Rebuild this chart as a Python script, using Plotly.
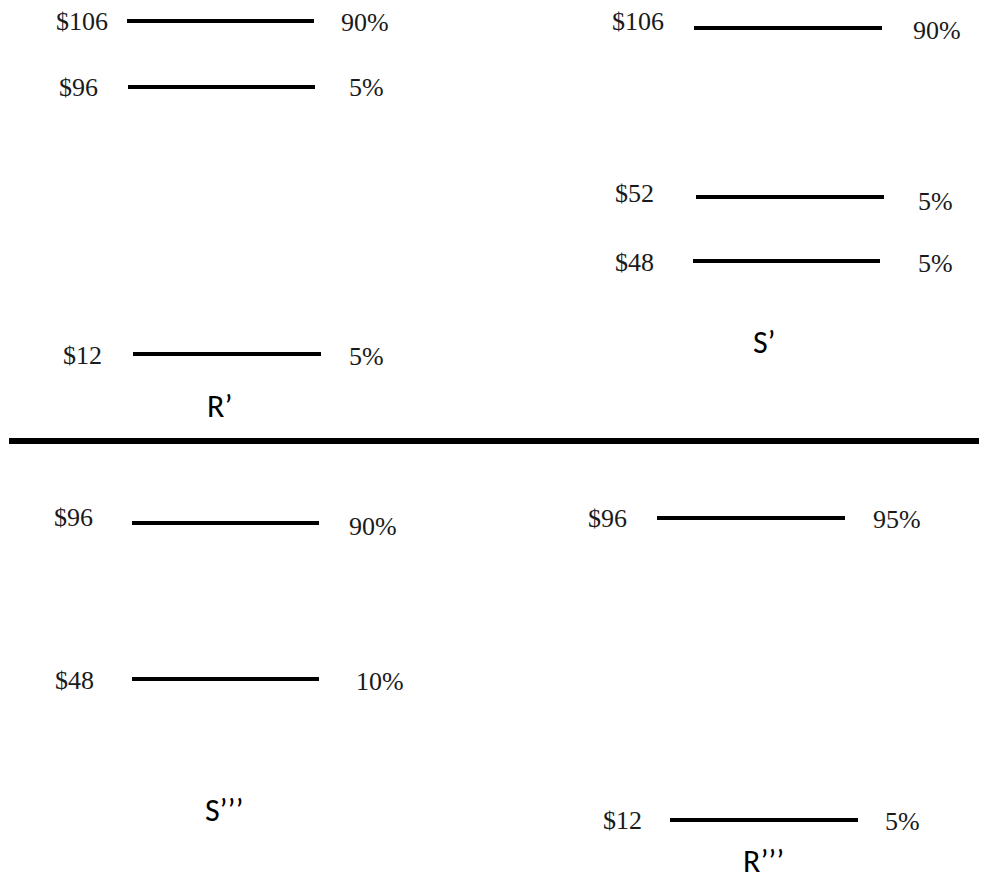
import plotly.graph_objects as go

# ── Data: four lotteries, prize ($) and probability (%) per outcome ──
panel_names = ["R’", "S’", "S’’’", "R’’’"]
r1_prizes = [106, 96, 12]
r1_probs = [90, 5, 5]
s1_prizes = [106, 52, 48]
s1_probs = [90, 5, 5]
s3_prizes = [96, 48]
s3_probs = [90, 10]
r3_prizes = [96, 12]
r3_probs = [95, 5]

prizes = [r1_prizes, s1_prizes, s3_prizes, r3_prizes]
probs = [r1_probs, s1_probs, s3_probs, r3_probs]

# ── Layout (pixel positions of the diagram, page is 987 x 882) ──
# per outcome: (line x0, line x1, line y, prize x, prize y, prob x, prob y)
rows = [
    [(127, 314, 21, 82, 21, 365, 22),
     (128, 315, 87, 78, 87, 366, 87),
     (133, 321, 354, 82, 355, 366, 356)],
    [(694, 882, 28, 638, 21, 937, 30),
     (696, 884, 197, 634, 193, 935, 201),
     (693, 880, 261, 634, 262, 935, 263)],
    [(132, 319, 523, 73, 517, 373, 526),
     (132, 319, 679, 74, 680, 380, 681)],
    [(657, 845, 518, 607, 518, 897, 519),
     (670, 858, 820, 622, 820, 902, 821)],
]
title_pos = [(219, 406), (764, 342), (224, 810), (763, 861)]

SERIF = "Liberation Serif, Times New Roman, serif"
SANS = "Carlito, Liberation Sans Narrow, Liberation Sans, sans-serif"

# the page body has an 8px margin, so the visible origin sits at 8,8
OFFSET = 8

fig = go.Figure()
annotations = []

for p, name in enumerate(panel_names):
    for k, prize in enumerate(prizes[p]):
        x0, x1, ly, px, py, qx, qy = rows[p][k]
        fig.add_trace(go.Scatter(
            x=[x0, x1], y=[ly, ly], mode="lines",
            line=dict(color="black", width=4),
            hoverinfo="skip", showlegend=False
        ))
        annotations.append(dict(x=px, y=py, text=f"${prize}", showarrow=False,
                                font=dict(family=SERIF, size=26, color="#1a1a1a")))
        annotations.append(dict(x=qx, y=qy, text=f"{probs[p][k]}%", showarrow=False,
                                font=dict(family=SERIF, size=26, color="#1a1a1a")))
    tx, ty = title_pos[p]
    annotations.append(dict(x=tx, y=ty, text=name, showarrow=False, borderpad=0,
                            font=dict(family=SANS, size=32, color="black")))

# thick divider between the two rows of lotteries
fig.add_shape(type="line", x0=9, x1=1000, y0=441, y1=441,
              line=dict(color="black", width=6))

fig.update_layout(
    width=987, height=882,
    margin=dict(l=0, r=0, t=0, b=0),
    plot_bgcolor="white", paper_bgcolor="white",
    xaxis=dict(range=[OFFSET, 987 + OFFSET], visible=False, fixedrange=True),
    yaxis=dict(range=[882 + OFFSET, OFFSET], visible=False, fixedrange=True),
    annotations=annotations,
    showlegend=False
)

fig.write_html("out.html", config={"displayModeBar": False})
